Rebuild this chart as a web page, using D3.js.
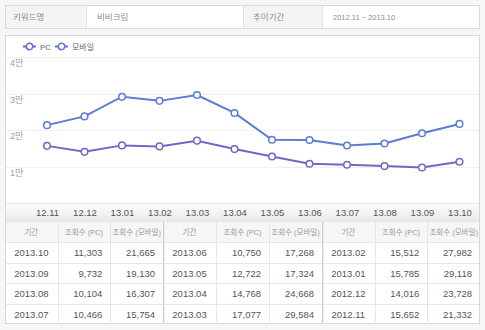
<!DOCTYPE html>
<html><head><meta charset="utf-8">
<script src="https://cdn.jsdelivr.net/npm/d3@7"></script>
<style>
html,body{margin:0;padding:0;background:#f5f6f8;}
svg{display:block;font-family:"Liberation Sans","Noto Sans CJK KR",Arial,sans-serif;}
</style></head><body>
<svg id="c" width="485" height="330"></svg>
<script>
const months = ["12.11","12.12","13.01","13.02","13.03","13.04","13.05","13.06","13.07","13.08","13.09","13.10"];
const pcValues = [15652,14016,15785,15512,17077,14768,12722,10750,10466,10104,9732,11303];
const mobileValues = [21332,23728,29118,27982,29584,24668,17324,17268,15754,16307,19130,21665];
const seriesNames = ["PC","모바일"];
const yTicks = [10000,20000,30000,40000];
const yTickLabels = ["1만","2만","3만","4만"];
const headerCells = ["키워드명","비비크림","추이기간","2012.11 ~ 2013.10"];
const tableHeaders = ["기간","조회수 (PC)","조회수 (모바일)"];

const svg = d3.select("#c");
const colors = {PC:"#7466c4", mobile:"#5b7bd5"};
const L = 5, R = 480;

// header box
const hb = svg.append("g");
hb.append("rect").attr("x",L+0.5).attr("y",5.5).attr("width",R-L-1).attr("height",23).attr("fill","#fff").attr("stroke","#d9d9d9");
hb.append("rect").attr("x",L+1).attr("y",6).attr("width",81).attr("height",22).attr("fill","#f4f4f4");
hb.append("rect").attr("x",243).attr("y",6).attr("width",79).attr("height",22).attr("fill","#f4f4f4");
[[86],[243],[322]].forEach(([x])=>hb.append("line").attr("x1",x+0.5).attr("x2",x+0.5).attr("y1",6).attr("y2",28).attr("stroke","#e3e3e3"));
const hx = [13,97,253,333];
headerCells.forEach((t,i)=>hb.append("text").attr("x",hx[i]).attr("y",20).attr("font-size",i===3?7.5:8.5).attr("fill","#8a8a8a").text(t));

// chart box
svg.append("rect").attr("x",L+0.5).attr("y",35.5).attr("width",R-L-1).attr("height",288).attr("fill","#fff").attr("stroke","#d6d6d6");

const x = d3.scalePoint().domain(months).range([47,459.5]);
const y = d3.scaleLinear().domain([0,40000]).range([203,57]);

// gridlines
svg.append("g").selectAll("line").data(yTicks).join("line")
  .attr("x1",L+1).attr("x2",R-1).attr("y1",d=>Math.round(y(d))+0.5).attr("y2",d=>Math.round(y(d))+0.5)
  .attr("stroke","#f0f0f0");
svg.append("g").selectAll("text").data(yTicks).join("text")
  .attr("x",10).attr("y",d=>y(d)+9).attr("font-size",9).attr("fill","#a0a0a0")
  .text((d,i)=>yTickLabels[i]);

// x axis band with gradient
const defs = svg.append("defs");
const g = defs.append("linearGradient").attr("id","xg").attr("x1",0).attr("x2",0).attr("y1",0).attr("y2",1);
g.append("stop").attr("offset","0%").attr("stop-color","#fdfdfd");
g.append("stop").attr("offset","100%").attr("stop-color","#eaeaea");
svg.append("rect").attr("x",L+1).attr("y",203).attr("width",R-L-2).attr("height",18).attr("fill","url(#xg)");
svg.append("line").attr("x1",L+1).attr("x2",R-1).attr("y1",203.5).attr("y2",203.5).attr("stroke","#e6e6e6");
const xAxis = svg.append("g").attr("transform","translate(0,203)").call(d3.axisBottom(x).tickSize(0).tickPadding(0));
xAxis.select(".domain").remove();
xAxis.selectAll("text").attr("y",13).attr("dy",0).attr("font-size",9.5).attr("fill","#555")
  .attr("font-family","Liberation Sans, Arial, sans-serif");

// lines
const series = [{name:seriesNames[0],vals:pcValues,c:colors.PC},{name:seriesNames[1],vals:mobileValues,c:colors.mobile}];
const line = d3.line().x((d,i)=>x(months[i])).y(d=>y(d));
series.forEach(s=>{
  svg.append("path").attr("d",line(s.vals)).attr("fill","none").attr("stroke",s.c).attr("stroke-width",2);
  svg.append("g").selectAll("circle").data(s.vals).join("circle")
    .attr("cx",(d,i)=>x(months[i])).attr("cy",d=>y(d)).attr("r",3.3)
    .attr("fill","#fff").attr("stroke",s.c).attr("stroke-width",1.5);
});

// legend
const lg = svg.append("g").attr("transform","translate(0,46.5)");
const lx = [23,55];
series.forEach((s,i)=>{
  lg.append("line").attr("x1",lx[i]).attr("x2",lx[i]+13).attr("y1",0).attr("y2",0).attr("stroke",s.c).attr("stroke-width",2);
  lg.append("circle").attr("cx",lx[i]+6.5).attr("cy",0).attr("r",3.2).attr("fill","#fff").attr("stroke",s.c).attr("stroke-width",1.5);
  lg.append("text").attr("x",lx[i]+17).attr("y",3).attr("font-size",8).attr("fill","#666").text(s.name);
});

// table
const tTop = 221, hH = 21, rH = 20.5;
const groupX = [5,163,322,480];
const tb = svg.append("g");
tb.append("rect").attr("x",L+1).attr("y",tTop).attr("width",R-L-2).attr("height",hH).attr("fill","#f6f6f6");
tb.append("line").attr("x1",L+1).attr("x2",R-1).attr("y1",tTop+0.5).attr("y2",tTop+0.5).attr("stroke","#e4e4e4");
for(let r=0;r<=4;r++){
  const yy = Math.round(tTop+hH+r*rH)+0.5;
  if(r<4) tb.append("line").attr("x1",L+1).attr("x2",R-1).attr("y1",yy).attr("y2",yy).attr("stroke","#e6e6e6");
}
const rowsAll = months.map((m,i)=>({date:"20"+m,pc:pcValues[i],mo:mobileValues[i]})).reverse();
const fmt = d3.format(",");
for(let gi=0;gi<3;gi++){
  const gx0 = groupX[gi], gx1 = groupX[gi+1];
  const cw = (gx1-gx0)/3;
  for(let c=1;c<3;c++){
    tb.append("line").attr("x1",Math.round(gx0+c*cw)+0.5).attr("x2",Math.round(gx0+c*cw)+0.5)
      .attr("y1",tTop).attr("y2",tTop+hH+4*rH).attr("stroke","#e6e6e6");
  }
  if(gi>0){
    tb.append("line").attr("x1",gx0+0.5).attr("x2",gx0+0.5).attr("y1",tTop).attr("y2",tTop+hH+4*rH).attr("stroke","#cfcfcf");
    tb.append("line").attr("x1",gx0+1.5).attr("x2",gx0+1.5).attr("y1",tTop).attr("y2",tTop+hH+4*rH).attr("stroke","#ececec");
  }
  tableHeaders.forEach((h,c)=>tb.append("text").attr("x",gx0+c*cw+cw/2).attr("y",tTop+14).attr("text-anchor","middle")
    .attr("font-size",7.5).attr("fill","#999").text(h));
  rowsAll.slice(gi*4,gi*4+4).forEach((d,r)=>{
    const ty = tTop+hH+r*rH+14;
    tb.append("text").attr("x",gx0+cw/2).attr("y",ty).attr("text-anchor","middle").attr("font-size",9.5).attr("fill","#555").text(d.date);
    tb.append("text").attr("x",gx0+2*cw-8).attr("y",ty).attr("text-anchor","end").attr("font-size",9.5).attr("fill","#555").text(fmt(d.pc));
    tb.append("text").attr("x",gx0+3*cw-8).attr("y",ty).attr("text-anchor","end").attr("font-size",9.5).attr("fill","#555").text(fmt(d.mo));
  });
}
</script></body></html>
